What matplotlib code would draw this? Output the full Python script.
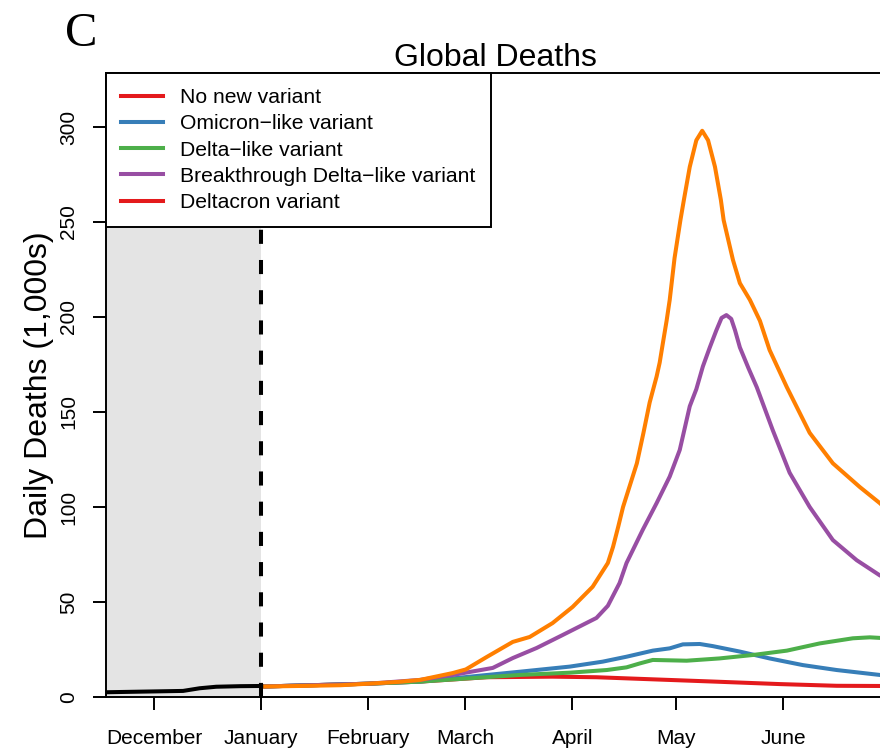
import matplotlib.pyplot as plt
from matplotlib.lines import Line2D

# days counted from 1 January (negative = before)
month_ticks = [-31, 0, 31, 59, 90, 120, 151]
month_labels = ['December', 'January', 'February', 'March', 'April', 'May', 'June']

hist_days = [-44.9, -22.6, -17.8, -13.0, -6.0, 0.0]
hist_vals = [2.5, 3.2, 4.6, 5.4, 5.7, 5.8]

orange_days = [0, 11, 23, 31, 40, 46, 55.4, 59.2, 65.2, 69.0, 72.8, 77.7, 84.3, 90.1, 95.9, 100.3,
               101.8, 103.3, 104.7, 108.7, 110.6, 112.4, 114.4, 115.3, 116.2, 117.3, 118.2, 119.6,
               121.3, 122.3, 124.0, 125.9, 127.6, 129.3, 131.3, 133.0, 133.8, 136.5, 138.5, 141.4,
               144.3, 147.1, 152.1, 158.7, 165.4, 173.2, 179.0, 180.2]
orange_vals = [5.5, 5.8, 6.2, 7.0, 8.0, 9.0, 12.6, 14.5, 21.0, 25.0, 29.0, 31.6, 38.9, 47.4, 58.0, 70.5,
               79.0, 89.6, 100.0, 123.0, 139.0, 155.0, 168.6, 176.0, 186.0, 198.0, 209.0, 231.0,
               251.0, 261.6, 279.0, 293.0, 298.0, 293.0, 279.0, 261.6, 251.0, 230.0, 217.8, 209.0,
               198.0, 182.6, 163.0, 139.0, 123.0, 110.5, 102.0, 100.0]

purple_days = [0, 31, 46, 55.4, 67.0, 72.8, 79.7, 87.2, 97.0, 100.3, 103.7, 105.7, 110.4, 114.4,
               118.2, 121.1, 124.0, 125.9, 127.8, 129.8, 131.7, 133.2, 134.6, 136.0, 137.1, 138.5,
               141.0, 143.4, 148.0, 152.9, 158.7, 165.4, 172.3, 179.0, 180.2]
purple_vals = [5.5, 7.0, 9.0, 11.6, 15.3, 20.5, 25.8, 32.6, 41.6, 48.0, 60.0, 70.5, 88.0, 102.0,
               116.0, 130.0, 153.0, 162.0, 174.0, 184.0, 193.0, 199.5, 201.0, 199.0, 193.0, 184.0,
               173.0, 163.0, 140.5, 118.0, 100.0, 82.6, 72.0, 64.0, 63.0]

blue_days = [0, 31, 46, 74.8, 89.3, 98.8, 105.7, 113.3, 118.2, 122.0, 126.9, 130.6, 138.5, 147.1,
             156.7, 166.5, 179.0, 180.2]
blue_vals = [5.5, 7.0, 8.1, 13.3, 16.0, 18.6, 21.2, 24.4, 25.6, 27.7, 27.9, 26.8, 23.9, 20.3,
             16.8, 14.2, 11.6, 11.4]

green_days = [0, 31, 46, 74.8, 89.3, 100.0, 105.7, 109.6, 113.3, 123.1, 132.6, 142.2, 152.1,
              161.6, 171.2, 176.1, 179.0, 180.2]
green_vals = [5.5, 7.0, 8.1, 11.6, 12.8, 14.2, 15.6, 17.7, 19.5, 19.1, 20.3, 22.1, 24.4,
              28.2, 30.9, 31.4, 31.1, 31.0]

red_days = [0, 31, 46, 65.2, 84.3, 97.0, 113.3, 131.2, 150.0, 166.5, 179.0, 180.2]
red_vals = [5.5, 7.0, 8.1, 10.4, 10.7, 10.4, 9.3, 8.1, 6.8, 5.9, 5.8, 5.8]

legend_labels = ['No new variant', 'Omicron\u2212like variant', 'Delta\u2212like variant',
                 'Breakthrough Delta\u2212like variant', 'Deltacron variant']
legend_colors = ['#E41A1C', '#377EB8', '#4DAF4A', '#984EA3', '#E41A1C']

plt.rcParams['font.family'] = ['Liberation Sans', 'DejaVu Sans']
plt.rcParams['lines.solid_joinstyle'] = 'round'

fig = plt.figure(figsize=(8.8, 7.48), dpi=100)
ax = fig.add_axes([106 / 880, 51 / 748, 778 / 880, 624 / 748])

x0, x1 = -44.9, 180.2
ax.axvspan(x0, 0, color='#e4e4e4', lw=0, zorder=0)
ax.axvline(0, color='black', lw=2.9, linestyle=(0, (3.5, 4.0)), zorder=3)

lw = 2.9
ax.plot(red_days, red_vals, color='#E41A1C', lw=lw, zorder=2)
ax.plot(blue_days, blue_vals, color='#377EB8', lw=lw, zorder=2)
ax.plot(green_days, green_vals, color='#4DAF4A', lw=lw, zorder=2)
ax.plot(purple_days, purple_vals, color='#984EA3', lw=lw, zorder=2)
ax.plot(orange_days, orange_vals, color='#FF7F00', lw=lw, zorder=2)
ax.plot(hist_days, hist_vals, color='black', lw=lw, zorder=4)

ax.set_xlim(x0, x1)
ax.set_ylim(0, 328.4)
ax.set_xticks(month_ticks)
ax.set_xticklabels(month_labels, fontsize=15)
ax.set_yticks(range(0, 301, 50))
ax.set_yticklabels([str(v) for v in range(0, 301, 50)], fontsize=15, rotation=90, va='center')
ax.tick_params(axis='both', direction='out', length=9.2, width=1.4)
ax.tick_params(axis='x', pad=14)
ax.tick_params(axis='y', pad=11)
for s in ax.spines.values():
    s.set_linewidth(1.4)

ax.set_title('Global Deaths', fontsize=23, pad=-0.5)
ax.set_ylabel('Daily Deaths (1,000s)', fontsize=23)
ax.yaxis.set_label_coords((39 - 106) / 778, 0.5)
ax.yaxis.label.set_va('center')

fig.text(65 / 880, 1 - 46 / 748, 'C', fontsize=35, family='Liberation Serif', va='baseline')

handles = [Line2D([], [], color=c, lw=lw) for c in legend_colors]
leg = ax.legend(handles, legend_labels, loc='upper left', borderaxespad=0, fontsize=15.2,
                handlelength=2.0, handletextpad=0.8, labelspacing=0.34, borderpad=0.72,
                fancybox=False, framealpha=1, edgecolor='black')
leg.get_frame().set_linewidth(1.4)
leg.set_zorder(10)

fig.savefig('out.png', dpi=100)
